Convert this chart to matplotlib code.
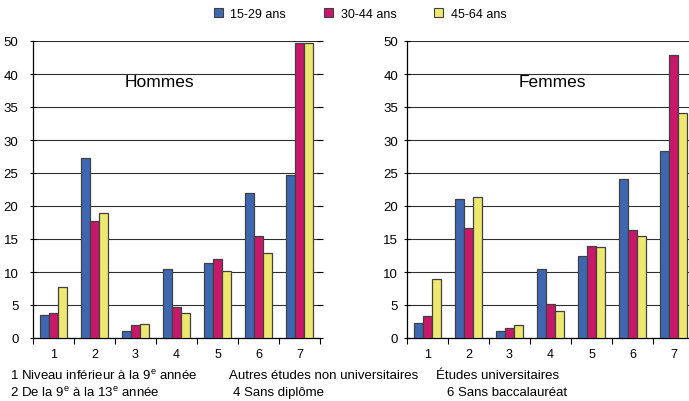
import numpy as np
import matplotlib
matplotlib.use("Agg")
import matplotlib.pyplot as plt
from matplotlib.patches import Patch

plt.rcParams['font.family'] = ['Liberation Sans', 'DejaVu Sans']
plt.rcParams['mathtext.fontset'] = 'custom'
plt.rcParams['mathtext.rm'] = 'Liberation Sans'

# donnees (en %)
niveaux = [1, 2, 3, 4, 5, 6, 7]
groupes = ['15-29 ans', '30-44 ans', '45-64 ans']
couleurs = ['#3F67B1', '#C8186A', '#EDE86F']

hommes_15_29 = [3.5, 27.3, 1.1, 10.4, 11.3, 22.0, 24.7]
hommes_30_44 = [3.8, 17.7, 1.9, 4.7, 12.0, 15.5, 49.4]
hommes_45_64 = [7.7, 19.0, 2.1, 3.8, 10.1, 12.9, 49.4]

femmes_15_29 = [2.3, 21.1, 1.1, 10.4, 12.4, 24.1, 28.3]
femmes_30_44 = [3.3, 16.7, 1.5, 5.2, 14.0, 16.4, 45.7]
femmes_45_64 = [9.0, 21.4, 1.9, 4.1, 13.8, 15.4, 34.1]

yticks = [0, 5, 10, 15, 20, 25, 30, 35, 40, 50]


# l'axe est comprime entre 40 et 50
def fwd(v):
    v = np.asarray(v, dtype=float)
    return np.where(v <= 40, v, 40 + (v - 40) / 2)


def inv(v):
    v = np.asarray(v, dtype=float)
    return np.where(v <= 40, v, 40 + (v - 40) * 2)


fig = plt.figure(figsize=(6.89, 4.02), dpi=100)
ax1 = fig.add_axes([33/689, 1-339/402, 287/689, 297/402])
ax2 = fig.add_axes([407/689, 1-339/402, 287/689, 297/402])

x = np.array(niveaux)
w = 0.227
for ax, series, titre, tx, lpad in [
        (ax1, [hommes_15_29, hommes_30_44, hommes_45_64], 'Hommes', 0.44, 8),
        (ax2, [femmes_15_29, femmes_30_44, femmes_45_64], 'Femmes', 0.505, 4)]:
    ax.set_yscale('function', functions=(fwd, inv))
    for i, vals in enumerate(series):
        ax.bar(x + (i - 1) * w, vals, w, color=couleurs[i],
               edgecolor='#404040', linewidth=0.9, zorder=3)
    ax.set_xlim(0.5, 7.5)
    ax.set_ylim(0, 50)
    ax.set_yticks(yticks)
    ax.set_yticklabels([str(t) for t in yticks])
    ax.yaxis.set_minor_locator(matplotlib.ticker.NullLocator())
    ax.grid(axis='y', color='#303030', linewidth=0.8, zorder=0)
    ax.set_xticks(np.arange(0.5, 8, 1))
    ax.set_xticklabels([])
    ax.set_xticks(x, minor=True)
    ax.set_xticklabels([str(n) for n in niveaux], minor=True)
    ax.tick_params(axis='x', which='major', direction='out', length=4, width=0.8)
    ax.tick_params(axis='x', which='minor', length=0, pad=7, labelsize=9)
    ax.tick_params(axis='y', direction='inout', length=5, width=0.8,
                   right=True, pad=lpad, labelsize=9.5)
    ax.tick_params(axis='y', which='major', labelright=False)
    for s in ['top', 'right']:
        ax.spines[s].set_visible(False)
    ax.spines['left'].set_linewidth(0.9)
    ax.spines['bottom'].set_linewidth(0.9)
    ax.text(tx, 0.865, titre, transform=ax.transAxes, ha='center',
            va='center', fontsize=12.5)

handles = [Patch(facecolor=c, edgecolor='#404040', linewidth=0.8) for c in couleurs]
fig.legend(handles, groupes, loc='center', bbox_to_anchor=(360/689, 1-15/402),
           ncol=3, frameon=False, handlelength=0.75,
           handleheight=0.75, columnspacing=3.0, handletextpad=0.6,
           prop={'size': 9})

fs = 9.5
fig.text(10/689, 1-376/402, r'1 Niveau inférieur à la 9$^{\mathrm{e}}$ année', fontsize=fs, va='center')
fig.text(229/689, 1-376/402, 'Autres études non universitaires', fontsize=fs, va='center')
fig.text(436/689, 1-376/402, 'Études universitaires', fontsize=fs, va='center')
fig.text(10/689, 1-393/402, r'2 De la 9$^{\mathrm{e}}$ à la 13$^{\mathrm{e}}$ année', fontsize=fs, va='center')
fig.text(233/689, 1-393/402, '4 Sans diplôme', fontsize=fs, va='center')
fig.text(447/689, 1-393/402, '6 Sans baccalauréat', fontsize=fs, va='center')

fig.savefig('out.png', dpi=100)
